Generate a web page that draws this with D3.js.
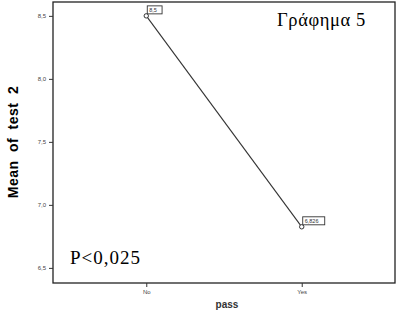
<!doctype html>
<html lang="en">
<head>
<meta charset="utf-8">
<title>Mean of test 2 by pass</title>
<script src="https://cdn.jsdelivr.net/npm/d3@7"></script>
<style>
  body { margin: 0; background: #fff; }
</style>
</head>
<body>
<script>
    // data
    var categories = ["No", "Yes"];
    var means = [8.5, 6.826];
    var meanLabels = ["8,5", "6,826"];
    var yTicks = [6.5, 7.0, 7.5, 8.0, 8.5];

    var W = 398, H = 313;
    var frame = {left: 53, top: 2, right: 395, bottom: 283};

    var svg = d3.select("body").append("svg")
            .attr("width", W).attr("height", H);

    var x = d3.scalePoint().domain(categories)
            .range([frame.left, frame.right]).padding(0.6);
    var y = d3.scaleLinear().domain([6.38, 8.61])
            .range([frame.bottom, frame.top]);

    // plot frame
    svg.append("rect")
        .attr("x", frame.left).attr("y", frame.top)
        .attr("width", frame.right - frame.left)
        .attr("height", frame.bottom - frame.top)
        .attr("fill", "none").attr("stroke", "#222").attr("stroke-width", 1.3);

    var fmt = function(d){ return d3.format(".1f")(d).replace(".", ","); };

    var yAxis = svg.append("g")
        .attr("transform", "translate(" + frame.left + ",0)")
        .call(d3.axisLeft(y).tickValues(yTicks).tickSize(4).tickFormat(fmt));
    yAxis.select(".domain").remove();
    yAxis.selectAll("text").attr("font-size", 6).attr("font-family", "Arial, sans-serif").attr("fill", "#444");
    yAxis.selectAll("line").attr("stroke", "#333");

    var xAxis = svg.append("g")
        .attr("transform", "translate(0," + frame.bottom + ")")
        .call(d3.axisBottom(x).tickSize(4).tickPadding(3));
    xAxis.select(".domain").remove();
    xAxis.selectAll("text").attr("font-size", 6).attr("font-family", "Arial, sans-serif").attr("fill", "#444");
    xAxis.selectAll("line").attr("stroke", "#333");

    var pts = categories.map(function(c, i){ return {cat: c, v: means[i], lab: meanLabels[i]}; });

    svg.append("path")
        .datum(pts)
        .attr("fill", "none").attr("stroke", "#333").attr("stroke-width", 1.1)
        .attr("d", d3.line().x(function(d){return x(d.cat);}).y(function(d){return y(d.v);}));

    svg.selectAll("circle.pt").data(pts).enter().append("circle")
        .attr("class", "pt")
        .attr("cx", function(d){return x(d.cat);})
        .attr("cy", function(d){return y(d.v);})
        .attr("r", 2.2)
        .attr("fill", "#fff").attr("stroke", "#333").attr("stroke-width", 1);

    // value labels in small boxes
    var lab = svg.selectAll("g.lab").data(pts).enter().append("g")
        .attr("class", "lab")
        .attr("transform", function(d){ return "translate(" + (x(d.cat) + 1) + "," + (y(d.v) - 10) + ")"; });
    lab.append("rect")
        .attr("width", function(d){ return d.lab.length * 3.6 + 4; })
        .attr("height", 8)
        .attr("fill", "#fff").attr("stroke", "#333").attr("stroke-width", 0.9);
    lab.append("text")
        .attr("x", 2).attr("y", 6)
        .attr("font-size", 5.5).attr("font-family", "Arial, sans-serif").attr("fill", "#333")
        .text(function(d){ return d.lab; });

    // axis titles
    svg.append("text")
        .attr("transform", "translate(18,142) rotate(-90)")
        .attr("text-anchor", "middle")
        .attr("font-size", 14).attr("font-weight", "bold")
        .attr("letter-spacing", 0.5).attr("word-spacing", 4)
        .attr("font-family", "Arial, Liberation Sans, sans-serif")
        .text("Mean of test 2");

    svg.append("text")
        .attr("x", 227).attr("y", 308)
        .attr("text-anchor", "middle")
        .attr("font-size", 10).attr("font-weight", "bold")
        .attr("font-family", "Arial, Liberation Sans, sans-serif")
        .attr("fill", "#333")
        .text("pass");

    // annotations
    svg.append("text")
        .attr("x", 277).attr("y", 26)
        .attr("font-size", 18.5).attr("letter-spacing", 0.6)
        .attr("font-family", "Liberation Serif, Times New Roman, serif")
        .text("Γράφημα 5");

    svg.append("text")
        .attr("x", 70).attr("y", 264)
        .attr("font-size", 19).attr("letter-spacing", 1)
        .attr("font-family", "Liberation Serif, Times New Roman, serif")
        .text("P<0,025");
</script>
</body>
</html>
